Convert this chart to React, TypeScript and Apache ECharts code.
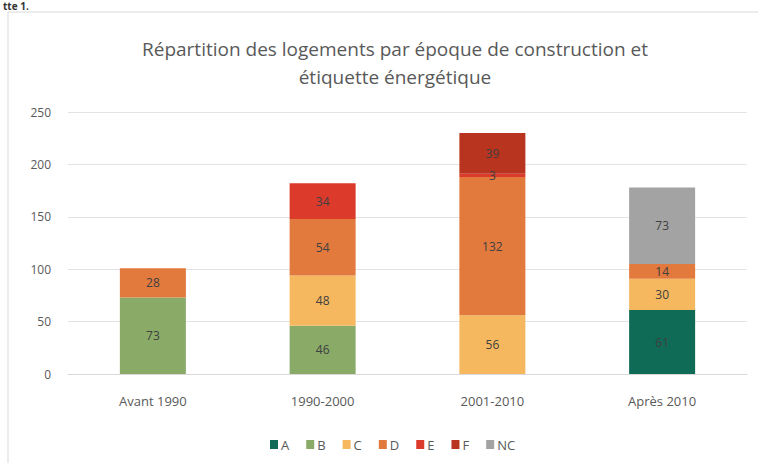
import React, { useEffect, useRef } from "react";
import * as echarts from "echarts";

const categories = ["Avant 1990", "1990-2000", "2001-2010", "Après 2010"];
const seriesNames = ["A", "B", "C", "D", "E", "F", "NC"];
const valuesA = [null, null, null, 61];
const valuesB = [73, 46, null, null];
const valuesC = [null, 48, 56, 30];
const valuesD = [28, 54, 132, 14];
const valuesE = [null, 34, 3, null];
const valuesF = [null, null, 39, null];
const valuesNC = [null, null, null, 73];
const yTicks = [0, 50, 100, 150, 200, 250];

const colors = ["#0f6b56", "#8aab68", "#f5b85e", "#e27a3e", "#dc3a2b", "#b9341f", "#a3a3a3"];

export default function App() {
  const ref = useRef<HTMLDivElement>(null);
  useEffect(() => {
    if (!ref.current) return;
    const chart = echarts.init(ref.current, null, { renderer: "svg" });
    const allValues = [valuesA, valuesB, valuesC, valuesD, valuesE, valuesF, valuesNC];
    const font = "'Open Sans', sans-serif";
    chart.setOption({
      animation: false,
      backgroundColor: "#ffffff",
      textStyle: { fontFamily: font },
      title: {
        text: "Répartition des logements par époque de construction et\nétiquette énergétique",
        left: 390,
        textAlign: "center",
        top: 30,
        textStyle: { fontFamily: font, fontSize: 19, fontWeight: "normal", color: "#595959", lineHeight: 28 },
      },
      graphic: [
        { type: "rect", shape: { x: 8, y: 12, width: 760, height: 470 }, style: { fill: "none", stroke: "#d9d9d9", lineWidth: 1 } },
        { type: "text", left: 3, top: 1, style: { text: "tte 1.", font: "bold 10px 'Open Sans', sans-serif", fill: "#333" } },
      ],
      legend: {
        data: seriesNames,
        top: 433,
        left: 265,
        itemWidth: 8,
        itemHeight: 9,
        itemGap: 17,
        icon: "rect",
        textStyle: { fontFamily: font, fontSize: 13, color: "#595959", padding: [0, 0, 0, -2] },
      },
      grid: { left: 68, right: 11, top: 112, bottom: 89, containLabel: false },
      xAxis: {
        type: "category",
        data: categories,
        axisLine: { lineStyle: { color: "#d9d9d9" } },
        axisTick: { show: false },
        axisLabel: { fontFamily: font, fontSize: 13, color: "#595959", margin: 20 },
      },
      yAxis: {
        type: "value",
        min: yTicks[0],
        max: yTicks[yTicks.length - 1],
        interval: 50,
        axisLine: { show: false },
        axisTick: { show: false },
        splitLine: { lineStyle: { color: "#e3e3e3" } },
        axisLabel: { fontFamily: font, fontSize: 12, color: "#595959", margin: 17 },
      },
      series: seriesNames.map((name, i) => ({
        name,
        type: "bar",
        stack: "total",
        barWidth: 66,
        data: allValues[i],
        itemStyle: { color: colors[i] },
        label: {
          show: true,
          position: "inside",
          fontFamily: font,
          fontSize: 12,
          color: "#404040",
        },
      })),
    });
    return () => chart.dispose();
  }, []);
  return <div ref={ref} style={{ position: "fixed", left: 0, top: 0, width: 758, height: 463 }} />;
}
